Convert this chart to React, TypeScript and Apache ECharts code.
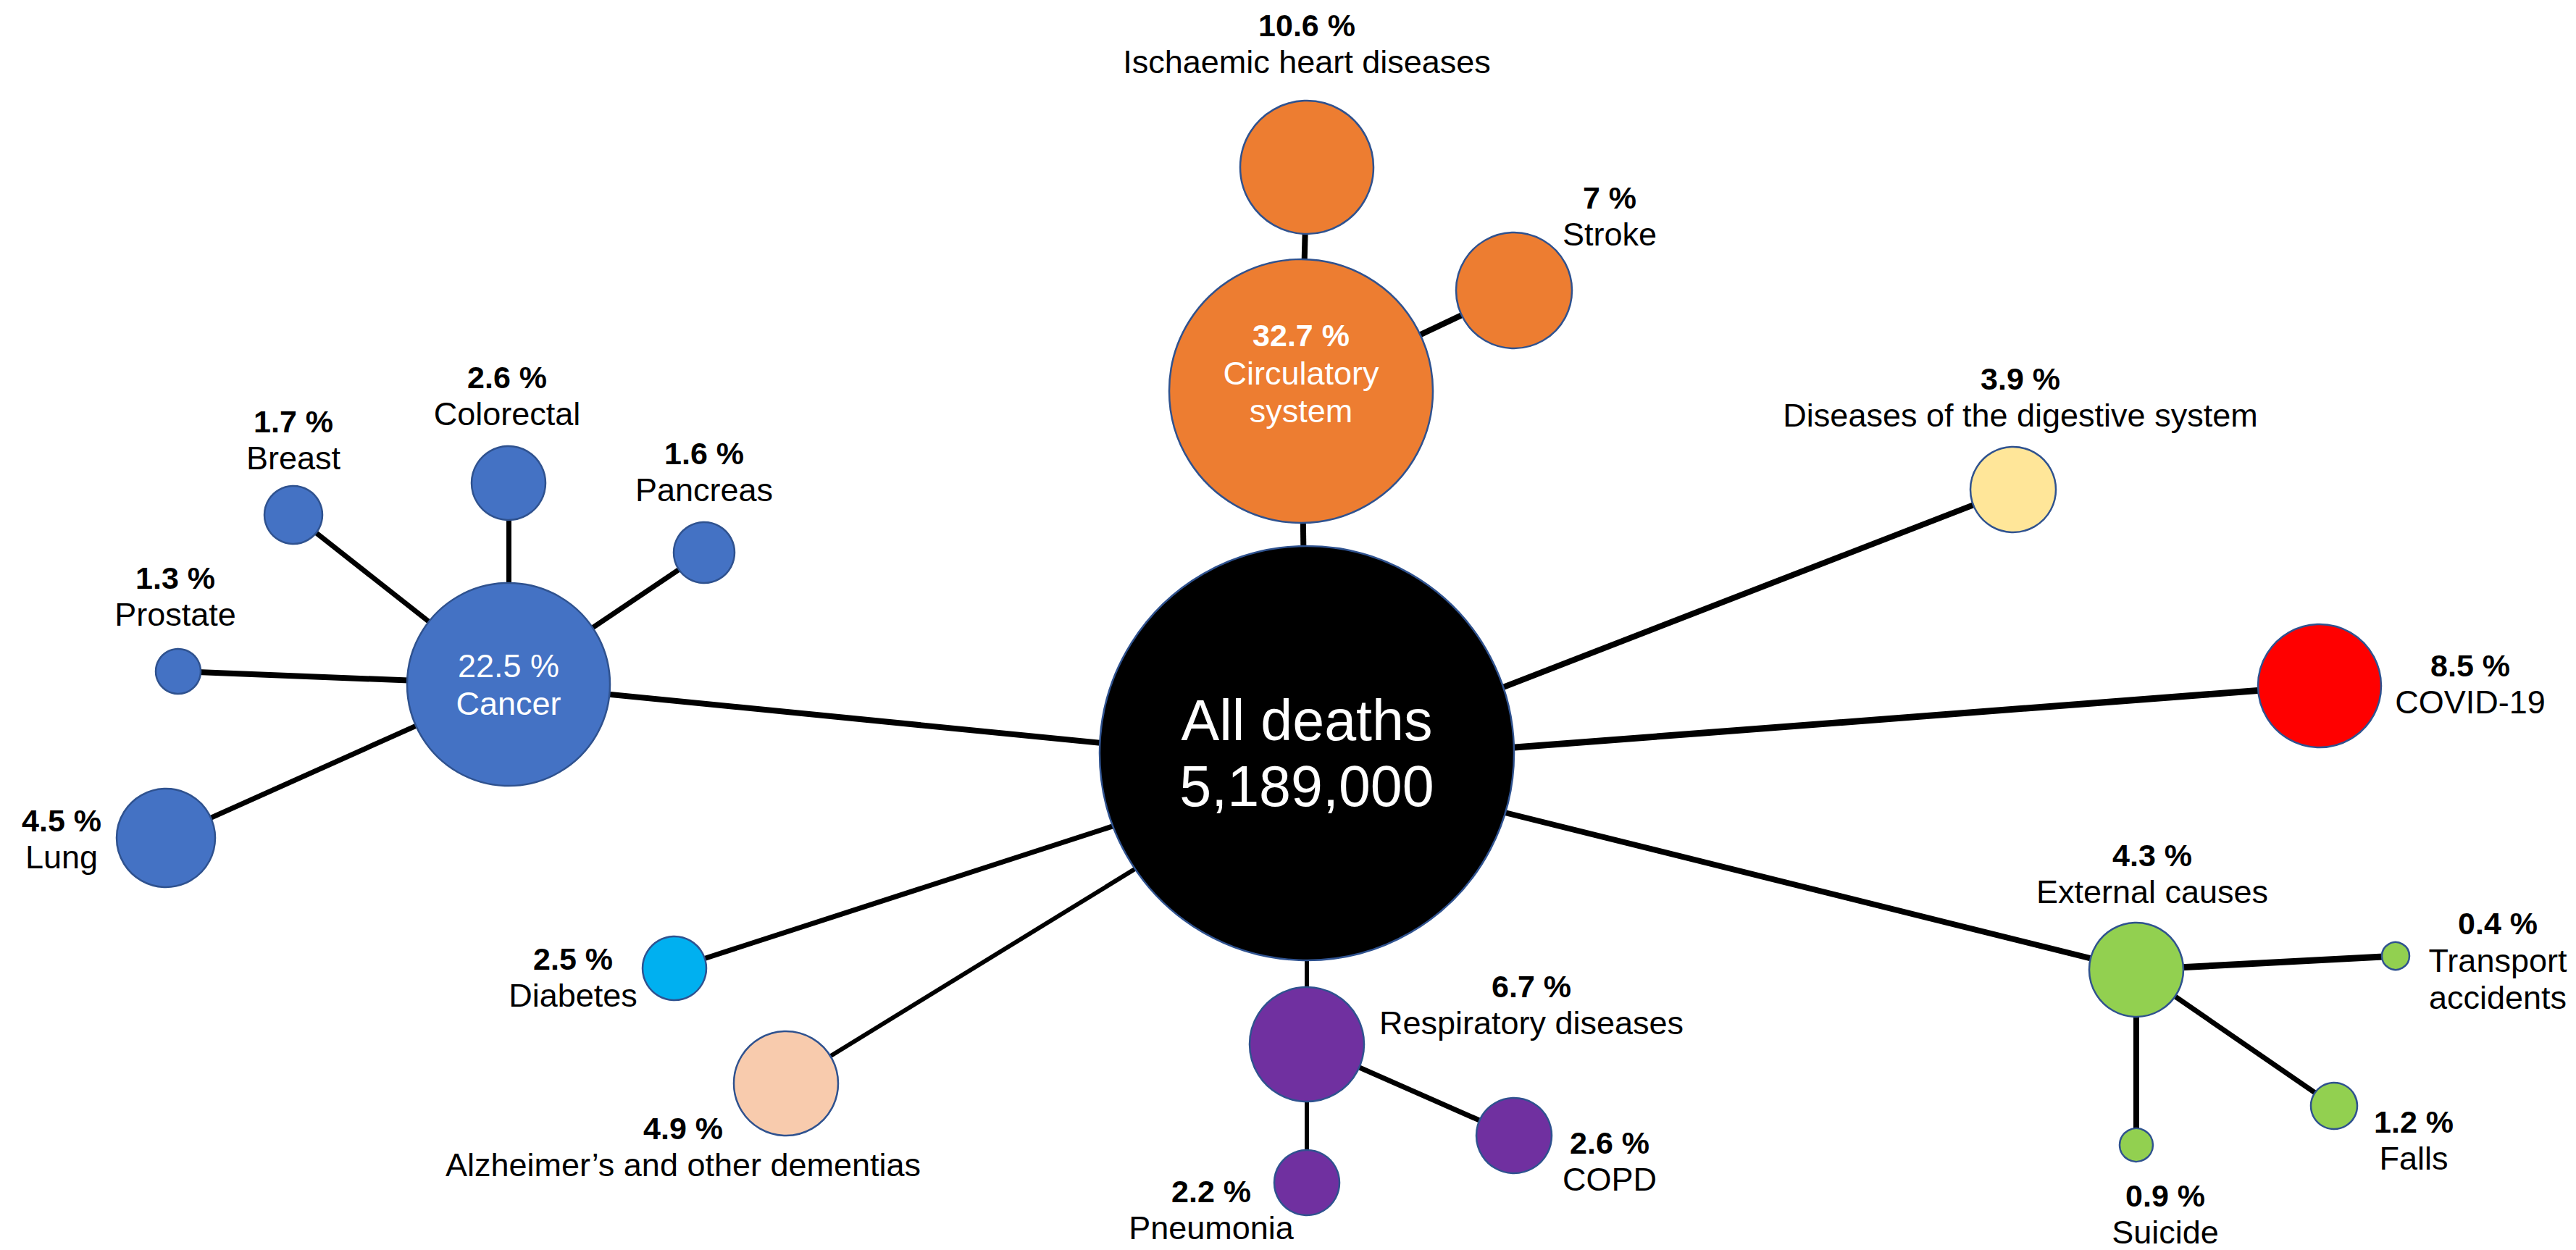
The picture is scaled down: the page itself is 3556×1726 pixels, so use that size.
import React, { useEffect, useRef } from "react";
import * as echarts from "echarts";

// ---------- data ----------
const TOTAL_DEATHS = 5189000;

const causes = [
  "All deaths",
  "Circulatory system",
  "Ischaemic heart diseases",
  "Stroke",
  "Cancer",
  "Colorectal",
  "Breast",
  "Pancreas",
  "Prostate",
  "Lung",
  "Diseases of the digestive system",
  "COVID-19",
  "Respiratory diseases",
  "COPD",
  "Pneumonia",
  "Alzheimer\u2019s and other dementias",
  "Diabetes",
  "External causes",
  "Transport accidents",
  "Falls",
  "Suicide",
];

// share of all deaths, %
const shares = [100, 32.7, 10.6, 7, 22.5, 2.6, 1.7, 1.6, 1.3, 4.5, 3.9, 8.5, 6.7, 2.6, 2.2, 4.9, 2.5, 4.3, 0.4, 1.2, 0.9];

// parent group of each cause (edges)
const parents = [
  null,
  "All deaths",
  "Circulatory system",
  "Circulatory system",
  "All deaths",
  "Cancer",
  "Cancer",
  "Cancer",
  "Cancer",
  "Cancer",
  "All deaths",
  "All deaths",
  "All deaths",
  "Respiratory diseases",
  "Respiratory diseases",
  "All deaths",
  "All deaths",
  "All deaths",
  "External causes",
  "External causes",
  "External causes",
];

// ---------- layout (pixel space of the 3556 x 1726 canvas) ----------
const W = 3556;
const H = 1726;
const nodeX = [1804, 1796, 1804, 2090, 702, 702, 405, 972, 246, 229, 2779, 3202, 1804, 2090, 1804, 1085, 931, 2949, 3307, 3222, 2949];
const nodeY = [1040, 540, 231, 401, 945, 667, 711, 763, 927, 1157, 676, 947, 1442, 1568, 1633, 1496, 1337, 1339, 1320, 1527, 1581];
const nodeR = [286, 182, 92, 80, 140, 51, 40, 42, 31, 68, 59, 85, 79, 52, 45, 72, 44, 65, 19, 32, 23];
// vertical shift of the point where a node's outgoing edges start (hidden under the node)
const hubDY = [14, 0, 0, 0, 0, 0, 0, 0, 0, 0, 0, 0, 0, 0, 0, 0, 0, 0, 0, 0, 0];
const labelDX = [0, 0, 0, 132, 0, -2, 0, 0, -4, -144, 10, 208, 310, 132, -132, -142, -140, 22, 141, 110, 40];
const labelDY = [0, -25, -171, -103, 0, -121, -104, -112, -104, 1, -128, -3, -55, 35, 37, 87, 12, -133, 6, 47, 95];
const wrapName = [false, true, false, false, false, false, false, false, false, false, false, false, false, false, false, false, false, false, true, false, false];
const edgeWidth = [0, 8, 8, 8, 8, 7, 7, 7, 8, 7, 8, 9, 6, 7, 6, 6, 7, 8, 9, 7, 8];

// ---------- styles ----------
const ORANGE = "#ED7D31";
const BLUE = "#4472C4";
const PURPLE = "#7030A0";
const GREEN = "#92D050";
const nodeColor = [
  "#000000",
  ORANGE, ORANGE, ORANGE,
  BLUE, BLUE, BLUE, BLUE, BLUE, BLUE,
  "#FFE699",
  "#FF0000",
  PURPLE, PURPLE, PURPLE,
  "#F8CBAD",
  "#00B0F0",
  GREEN, GREEN, GREEN, GREEN,
];
// 0 = outside black label, 1 = inside white label with bold share, 2 = inside white regular, 3 = total
const labelKind = [3, 1, 0, 0, 2, 0, 0, 0, 0, 0, 0, 0, 0, 0, 0, 0, 0, 0, 0, 0, 0];

const FONT = "'Liberation Sans', Arial, 'Helvetica Neue', sans-serif";
const LH = 51;

function labelText(i: number): string {
  const name = wrapName[i] ? causes[i].replace(" ", "\n") : causes[i];
  if (labelKind[i] === 3) {
    return `{big|${causes[i]}\n${TOTAL_DEATHS.toLocaleString("en-US")}}`;
  }
  const pct = `${shares[i]} %`;
  if (labelKind[i] === 1) return `{pw|${pct}}\n{nw|${name}}`;
  if (labelKind[i] === 2) return `{nw|${pct}}\n{nw|${name}}`;
  return `{p|${pct}}\n{n|${name}}`;
}

const rich = {
  p: { fontFamily: FONT, fontSize: 43, fontWeight: "bold", color: "#000", lineHeight: LH, align: "center" },
  n: { fontFamily: FONT, fontSize: 45, color: "#000", lineHeight: LH, align: "center" },
  pw: { fontFamily: FONT, fontSize: 43, fontWeight: "bold", color: "#fff", lineHeight: LH + 1, align: "center" },
  nw: { fontFamily: FONT, fontSize: 45, color: "#fff", lineHeight: LH + 1, align: "center" },
  big: { fontFamily: FONT, fontSize: 79, color: "#fff", lineHeight: 91, align: "center" },
};

export default function App() {
  const ref = useRef<HTMLDivElement>(null);

  useEffect(() => {
    if (!ref.current) return;
    const chart = echarts.init(ref.current, null, { renderer: "svg" });

    const nodes = causes.map((name, i) => ({
      name,
      value: [nodeX[i], nodeY[i], shares[i]],
      symbolSize: nodeR[i] * 2,
      itemStyle: { color: nodeColor[i], borderColor: "#2F528F", borderWidth: 2.5, opacity: 1 },
      label: {
        show: true,
        position: "inside",
        offset: [labelDX[i], labelDY[i]],
        formatter: labelText(i),
        rich,
      },
    }));

    const edges = causes
      .map((name, i) => {
        const p = parents[i];
        if (!p) return null;
        const j = causes.indexOf(p);
        return {
          name: `${p} \u2192 ${name}`,
          coords: [
            [nodeX[j], nodeY[j] + hubDY[j]],
            [nodeX[i], nodeY[i]],
          ],
          lineStyle: { width: edgeWidth[i], color: "#000", opacity: 1 },
        };
      })
      .filter(Boolean);

    chart.setOption({
      animation: false,
      backgroundColor: "#ffffff",
      grid: { left: 0, right: 0, top: 0, bottom: 0, containLabel: false },
      xAxis: { type: "value", min: 0, max: W, show: false },
      yAxis: { type: "value", min: 0, max: H, inverse: true, show: false },
      series: [
        {
          type: "lines",
          coordinateSystem: "cartesian2d",
          z: 1,
          silent: true,
          lineStyle: { color: "#000", opacity: 1 },
          data: edges,
        },
        {
          type: "scatter",
          z: 2,
          symbol: "circle",
          silent: true,
          itemStyle: { opacity: 1 },
          emphasis: { disabled: true },
          data: nodes,
        },
      ],
    });

    const onResize = () => chart.resize();
    window.addEventListener("resize", onResize);
    return () => {
      window.removeEventListener("resize", onResize);
      chart.dispose();
    };
  }, []);

  return (
    <div
      ref={ref}
      style={{ position: "fixed", left: 0, top: 0, width: "100vw", height: "100vh", background: "#fff" }}
    />
  );
}
